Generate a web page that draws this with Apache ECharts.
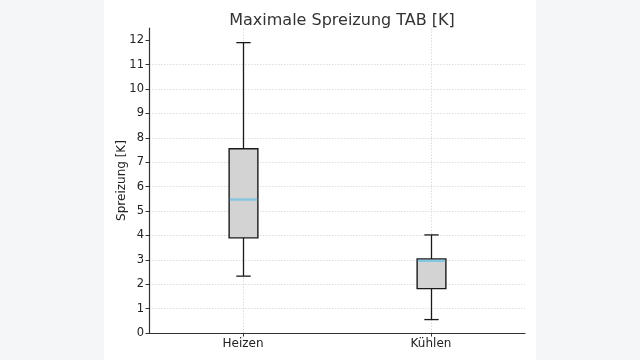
<!DOCTYPE html>
<html>
<head>
<meta charset="utf-8">
<script src="https://cdn.jsdelivr.net/npm/echarts@6/dist/echarts.min.js"></script>
<style>
  html, body { margin: 0; padding: 0; background: #f4f6f8; }
  #sheet { position: absolute; left: 104px; top: 0; width: 432px; height: 360px; background: #fff; }
  #main { position: absolute; left: 0; top: 0; width: 640px; height: 360px; }
</style>
</head>
<body>
<div id="sheet"></div>
<div id="main"></div>
<script>
const categories = ['Heizen', 'Kühlen']
const whiskerLow = [2.33, 0.55]
const q1 = [3.9, 1.82]
const median = [5.47, 2.96]
const q3 = [7.55, 3.03]
const whiskerHigh = [11.9, 4.02]
const yTicks = [0, 1, 2, 3, 4, 5, 6, 7, 8, 9, 10, 11, 12]

const FONT = 'DejaVu Sans'
const INK = '#1a1a1a'

// box width as a share of one category band
function renderBox(params, api) {
  const x = api.value(0)
  const lo = api.coord([x, api.value(1)])
  const b1 = api.coord([x, api.value(2)])
  const md = api.coord([x, api.value(3)])
  const b3 = api.coord([x, api.value(4)])
  const hi = api.coord([x, api.value(5)])
  const bw = api.size([1, 0])[0] * 0.153
  const cw = bw / 2
  const cx = Math.round(lo[0]) + 0.5
  const stroke = { stroke: INK, lineWidth: 1.3 }
  return {
    type: 'group',
    children: [
      { type: 'line', shape: { x1: cx, y1: b3[1], x2: cx, y2: hi[1] }, style: stroke },
      { type: 'line', shape: { x1: cx, y1: lo[1], x2: cx, y2: b1[1] }, style: stroke },
      { type: 'line', shape: { x1: cx - cw / 2, y1: hi[1], x2: cx + cw / 2, y2: hi[1] }, style: stroke },
      { type: 'line', shape: { x1: cx - cw / 2, y1: lo[1], x2: cx + cw / 2, y2: lo[1] }, style: stroke },
      {
        type: 'rect',
        shape: { x: cx - bw / 2, y: b3[1], width: bw, height: b1[1] - b3[1] },
        style: { fill: '#d3d3d3', stroke: INK, lineWidth: 1.4 }
      },
      {
        type: 'line',
        shape: { x1: cx - bw / 2 + 0.7, y1: md[1], x2: cx + bw / 2 - 0.7, y2: md[1] },
        style: { stroke: '#87c6e0', lineWidth: 2.4 }
      }
    ]
  }
}

const chart = echarts.init(document.getElementById('main'), null, { renderer: 'canvas' })

const gridLine = { color: '#d4d4d4', width: 0.8, type: [1.5, 1.5] }

const option = {
  backgroundColor: 'transparent',
  animation: false,
  textStyle: { fontFamily: FONT },
  title: {
    text: 'Maximale Spreizung TAB [K]',
    left: 337,
    textAlign: 'center',
    top: 8,
    textStyle: { fontFamily: FONT, fontSize: 16, fontWeight: 'normal', color: '#333' }
  },
  grid: { left: 149, right: 115, top: 28, bottom: 27, containLabel: false },
  xAxis: {
    type: 'category',
    data: categories,
    boundaryGap: true,
    axisLine: { lineStyle: { color: '#333', width: 1.2 } },
    axisTick: { show: true, alignWithLabel: true, length: 3.5, lineStyle: { color: '#333' } },
    axisLabel: { fontFamily: FONT, fontSize: 12, color: '#222', margin: 5 },
    splitLine: { show: false }
  },
  yAxis: {
    type: 'value',
    min: 0,
    max: 12.5,
    interval: 1,
    name: 'Spreizung [K]',
    nameLocation: 'middle',
    nameRotate: 90,
    nameGap: 21,
    nameMoveOverlap: false,
    nameTextStyle: { fontFamily: FONT, fontSize: 12, color: '#222' },
    axisLine: { show: true, lineStyle: { color: '#333', width: 1.2 } },
    axisTick: { show: true, length: 3.5, customValues: yTicks, lineStyle: { color: '#333' } },
    axisLabel: { fontFamily: FONT, fontSize: 11.5, color: '#222', margin: 5, customValues: yTicks },
    splitLine: { show: true, showMaxLine: false, lineStyle: gridLine }
  },
  series: [
    {
      type: 'line',
      data: [],
      z: 1,
      silent: true,
      markLine: {
        silent: true,
        z: 1,
        symbol: 'none',
        label: { show: false },
        lineStyle: gridLine,
        data: categories.map(c => ({ xAxis: c }))
      }
    },
    {
      type: 'custom',
      z: 6,
      renderItem: renderBox,
      encode: { x: 0, y: [1, 2, 3, 4, 5] },
      data: categories.map((c, i) => [i, whiskerLow[i], q1[i], median[i], q3[i], whiskerHigh[i]])
    }
  ]
}

chart.setOption(option)
</script>
</body>
</html>
